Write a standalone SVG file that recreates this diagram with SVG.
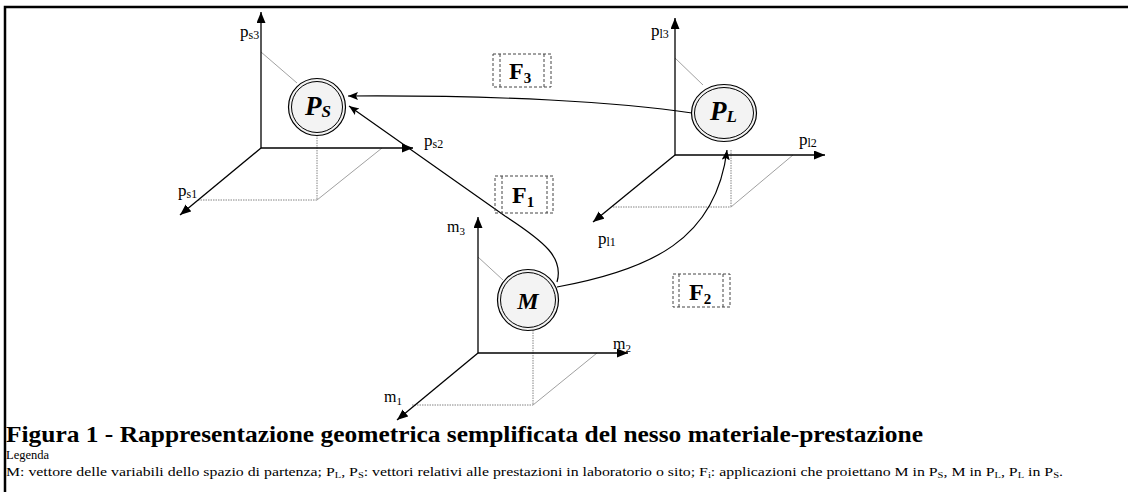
<svg xmlns="http://www.w3.org/2000/svg" width="1129" height="492" viewBox="0 0 1129 492">
<defs>
<marker id="ah" markerUnits="userSpaceOnUse" markerWidth="12" markerHeight="10" refX="11" refY="4.5" orient="auto"><path d="M0,0 L11,4.5 L0,9 z" fill="#000"/></marker>
<marker id="ch" markerUnits="userSpaceOnUse" markerWidth="12" markerHeight="10" refX="10" refY="4" orient="auto"><path d="M0,0 L10,4 L0,8 L2,4 z" fill="#000"/></marker>
<style>
.ax{stroke:#000;stroke-width:1.3;fill:none;marker-end:url(#ah)}
.th{stroke:#888;stroke-width:0.8;fill:none}
.dt{stroke:#666;stroke-width:0.8;fill:none;stroke-dasharray:1.5 1}
.cn{stroke:#000;stroke-width:1.2;fill:none;marker-end:url(#ch)}
.ring{fill:#f3f3f3;stroke:#000;stroke-width:1.2}
.ring2{fill:none;stroke:#000;stroke-width:1}
.bx{fill:none;stroke:#444;stroke-width:1;stroke-dasharray:3 2}
.t{font-family:"Liberation Serif","Times New Roman",serif;fill:#000}
.lab{font-size:17px}
.sub{font-size:12px}
.nl{font-weight:bold;font-style:italic}
.fl{font-weight:bold;font-size:24px}
</style>
</defs>
<path d="M5,492 V7 H1128" fill="none" stroke="#000" stroke-width="2.5"/>

<g id="axes-ps">
<line class="th" x1="261" y1="52" x2="297" y2="83"/>
<line class="dt" x1="317" y1="135" x2="317" y2="200"/>
<line class="dt" x1="198" y1="200" x2="317" y2="200"/>
<line class="th" x1="317" y1="200" x2="382" y2="148"/>
<line class="ax" x1="261" y1="148" x2="261" y2="12"/>
<line class="ax" x1="261" y1="148" x2="413" y2="148"/>
<line class="ax" x1="261" y1="148" x2="180" y2="215"/>
<text class="t lab" x="240" y="37">p<tspan class="sub" dy="2">s3</tspan></text>
<text class="t lab" x="424" y="146">p<tspan class="sub" dy="2">s2</tspan></text>
<text class="t lab" x="178" y="196">p<tspan class="sub" dy="2">s1</tspan></text>
</g>

<g id="axes-pl">
<line class="th" x1="675" y1="58" x2="703" y2="85"/>
<line class="dt" x1="731" y1="150" x2="731" y2="207"/>
<line class="dt" x1="613" y1="207" x2="731" y2="207"/>
<line class="th" x1="731" y1="207" x2="793" y2="155"/>
<line class="ax" x1="675" y1="155" x2="675" y2="18"/>
<line class="ax" x1="675" y1="155" x2="825" y2="155"/>
<line class="ax" x1="675" y1="155" x2="593" y2="222"/>
<text class="t lab" x="651" y="36">p<tspan class="sub" dy="2">l3</tspan></text>
<text class="t lab" x="799" y="145">p<tspan class="sub" dy="2">l2</tspan></text>
<text class="t lab" x="598" y="244">p<tspan class="sub" dy="2">l1</tspan></text>
</g>

<g id="axes-m">
<line class="th" x1="478" y1="257" x2="503" y2="280"/>
<line class="dt" x1="533" y1="330" x2="533" y2="405"/>
<line class="dt" x1="412" y1="405" x2="533" y2="405"/>
<line class="th" x1="533" y1="405" x2="597" y2="353"/>
<line class="ax" x1="478" y1="353" x2="478" y2="217"/>
<line class="ax" x1="478" y1="353" x2="628" y2="353"/>
<line class="ax" x1="478" y1="353" x2="397" y2="420"/>
<text class="t" font-size="16" x="447" y="232">m<tspan font-size="11" dy="3">3</tspan></text>
<text class="t" font-size="16" x="613" y="349">m<tspan font-size="11" dy="3">2</tspan></text>
<text class="t" font-size="16" x="384" y="402">m<tspan font-size="11" dy="3">1</tspan></text>
</g>

<g id="connectors">
<path class="cn" d="M557,282 C564,258 545,242 505,216 L349,106"/>
<path class="cn" d="M557,287 C650,270 716,240 727,150"/>
<path class="cn" d="M692,113 C620,102 500,95 348,96"/>
</g>

<g id="node-ps">
<circle class="ring" cx="317" cy="107" r="28.5"/>
<circle class="ring2" cx="317" cy="107" r="25.5"/>
<text class="t nl" font-size="27" x="305" y="115">P<tspan font-size="17" dy="2">S</tspan></text>
</g>

<g id="node-pl">
<ellipse class="ring" cx="724" cy="113" rx="32.5" ry="28.5"/>
<ellipse class="ring2" cx="724" cy="113" rx="29.5" ry="25.5"/>
<text class="t nl" font-size="27" x="710" y="120">P<tspan font-size="17" dy="2">L</tspan></text>
</g>

<g id="node-m">
<circle class="ring" cx="528" cy="300" r="30.5"/>
<circle class="ring2" cx="528" cy="300" r="27.5"/>
<text class="t nl" font-size="24" x="528" y="309" text-anchor="middle">M</text>
</g>

<g id="label-f3">
<rect class="bx" x="493" y="54" width="58" height="33"/>
<line class="bx" x1="500" y1="54" x2="500" y2="87"/>
<line class="bx" x1="544" y1="54" x2="544" y2="87"/>
<text class="t fl" x="509" y="79">F<tspan font-size="15" dy="4">3</tspan></text>
</g>

<g id="label-f1">
<rect class="bx" x="495" y="176" width="58" height="37"/>
<line class="bx" x1="502" y1="176" x2="502" y2="213"/>
<line class="bx" x1="547" y1="176" x2="547" y2="213"/>
<text class="t fl" x="512" y="203">F<tspan font-size="15" dy="4">1</tspan></text>
</g>

<g id="label-f2">
<rect class="bx" x="673" y="274" width="57" height="33"/>
<line class="bx" x1="679" y1="274" x2="679" y2="307"/>
<line class="bx" x1="723" y1="274" x2="723" y2="307"/>
<text class="t fl" x="689" y="300">F<tspan font-size="15" dy="4">2</tspan></text>
</g>

<g id="caption">
<text class="t" font-weight="bold" font-size="23" x="6" y="442" textLength="917" lengthAdjust="spacingAndGlyphs">Figura 1 - Rappresentazione geometrica semplificata del nesso materiale-prestazione</text>
<text class="t" font-size="12.5" x="6" y="459">Legenda</text>
<text class="t" font-size="13.5" x="6" y="476" textLength="1057" lengthAdjust="spacingAndGlyphs">M: vettore delle variabili dello spazio di partenza; P<tspan font-size="9" dy="2">L</tspan><tspan dy="-2">, P</tspan><tspan font-size="9" dy="2">S</tspan><tspan dy="-2">: vettori relativi alle prestazioni in laboratorio o sito; F</tspan><tspan font-size="9" dy="2">i</tspan><tspan dy="-2">: applicazioni che proiettano M in P</tspan><tspan font-size="9" dy="2">S</tspan><tspan dy="-2">, M in P</tspan><tspan font-size="9" dy="2">L</tspan><tspan dy="-2">, P</tspan><tspan font-size="9" dy="2">L</tspan><tspan dy="-2"> in P</tspan><tspan font-size="9" dy="2">S</tspan><tspan dy="-2">.</tspan></text>
</g>
</svg>
